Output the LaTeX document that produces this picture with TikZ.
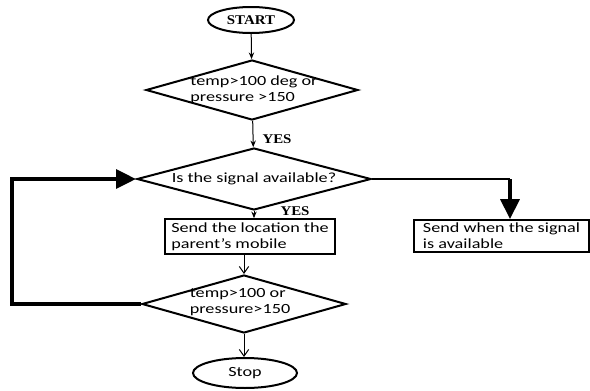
\documentclass[tikz,border=0pt]{standalone}
\usepackage{fontspec}
\setmainfont{Carlito}[FakeStretch=1.3]
\newfontfamily\headfont{Liberation Serif}[FakeStretch=1.12]
\usetikzlibrary{shapes.geometric,arrows.meta}

\tikzset{every picture/.style={line width=0.75pt}}
\tikzset{
  term/.style={ellipse, draw, line width=1.5pt, inner sep=0pt},
  decide/.style={diamond, draw, line width=1.5pt, inner sep=0pt},
  procbox/.style={rectangle, draw, line width=1.2pt, align=left, inner sep=0pt},
  txt/.style={align=left, inner sep=0pt, font=\fontsize{10.5}{12}\selectfont},
  yeslbl/.style={inner sep=0pt, font=\headfont\bfseries\fontsize{10}{12}\selectfont},
  flow/.style={line width=0.75pt, -{Stealth[length=5pt,width=4pt]}},
  flowv/.style={line width=0.75pt, -{Straight Barb[length=5pt,width=7pt]}},
  heavy/.style={line width=3pt, -{Triangle[length=15pt,width=14pt]}},
}

\begin{document}
\begin{tikzpicture}[x=0.75pt,y=0.75pt,yscale=-1,xscale=1]
    \path[use as bounding box] (0,0) rectangle (590,390);

    % Terminals
    \node[term, minimum width=64.5pt, minimum height=19.5pt, font=\headfont\bfseries\fontsize{10}{12}\selectfont] (start) at (251,20) {START};
    \node[term, minimum width=78pt, minimum height=22.5pt, font=\fontsize{10.5}{12}\selectfont] (stop) at (245,373) {Stop};

    % Decisions
    \node[decide, minimum width=159pt, minimum height=45pt] (chk1) at (252,90) {};
    \node[txt] at (254,90) {temp>100 deg or\\pressure >150};
    \node[decide, minimum width=175.5pt, minimum height=46.5pt] (sig) at (254,179) {};
    \node[txt] at (sig) {Is the signal available?};
    \node[decide, minimum width=153pt, minimum height=43.5pt] (chk2) at (244,304) {};
    \node[txt] at (240,302) {temp>100 or\\pressure>150};

    % Boxes
    \node[procbox, minimum width=127.5pt, minimum height=26.25pt, font=\fontsize{10.5}{12}\selectfont] (send) at (250,236.5) {Send the location the\\parent's mobile};
    \node[procbox, minimum width=131.25pt, minimum height=24pt, font=\fontsize{10.5}{12}\selectfont] (later) at (501.5,236) {Send when the signal\\is available};

    % Labels
    \node[yeslbl, anchor=west] (yes1) at (262,139) {YES};
    \node[yeslbl, anchor=west] (yes2) at (280,211) {YES};

    % Connectors
    \draw[flow] (start) -- (chk1);
    \draw[flow] (chk1) -- (sig);
    \draw[flow] (sig.south) -- (sig.south |- send.north);
    \draw[flowv] (send.south -| chk2.north) -- (chk2.north);
    \draw[flowv] (chk2.south) -- (chk2.south |- stop.north);

    \coordinate (loopL) at (12,242);
    \draw[heavy] (chk2.west) -| (loopL) |- (sig.west);

    \coordinate (rc) at (510,179);
    \draw[line width=1.5pt] (sig.east) -- (rc);
    \draw[heavy] (rc) -- (later.north -| rc);
\end{tikzpicture}
\end{document}
